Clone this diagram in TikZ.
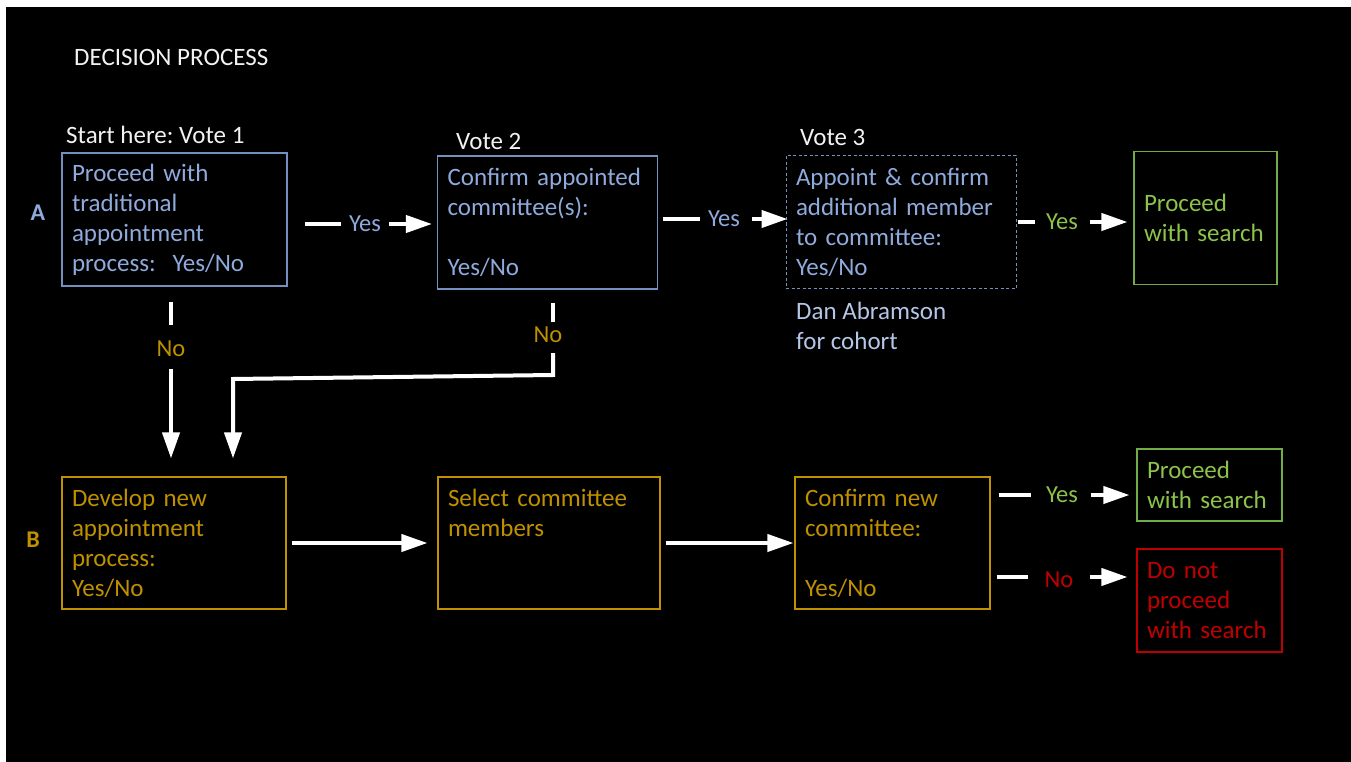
\documentclass[tikz,border=0pt]{standalone}
\usepackage{fontspec}
\setmainfont{Carlito}
\usetikzlibrary{arrows.meta}
\frenchspacing
\definecolor{blueB}{HTML}{7490C0}
\definecolor{blueT}{HTML}{8FAADC}
\definecolor{lightT}{HTML}{B4C7E7}
\definecolor{orangeC}{HTML}{BF9000}
\definecolor{greenB}{HTML}{70AD47}
\definecolor{greenT}{HTML}{8DC34B}
\definecolor{redC}{HTML}{C00000}
\definecolor{whiteT}{HTML}{F2F2F2}
\tikzset{
  boxnode/.style={draw, line width=1.1pt, rectangle, align=left, inner xsep=10pt, inner ysep=0pt,
    font=\fontsize{25}{30}\selectfont},
  bluebox/.style={boxnode, draw=blueB, text=blueT},
  orangebox/.style={boxnode, draw=orangeC, text=orangeC},
  greenbox/.style={boxnode, draw=greenB, text=greenT},
  redbox/.style={boxnode, draw=redC, text=redC},
  lab/.style={inner sep=0pt, font=\fontsize{24.5}{30}\selectfont},
  plain/.style={inner sep=0pt, anchor=west, text=whiteT, font=\fontsize{25}{30}\selectfont},
  wline/.style={draw=white, line width=4pt},
  warr/.style={draw=white, line width=4pt, -{Triangle[length=26pt,width=17pt]}},
}
\begin{document}
\begin{tikzpicture}[x=1pt,y=-1pt]
\useasboundingbox (0,0) rectangle (1351,762);
\fill[white] (0,0) rectangle (1351,762);
\fill[black] (6,7) rectangle (1351,762);

% titles
\node[plain] (title) at (74,57) {DECISION PROCESS};
\node[plain] (v1) at (66,135) {Start here: Vote 1};
\node[plain] (v2) at (456,141) {Vote 2};
\node[plain] (v3) at (800,137) {Vote 3};
\node[lab, text=blueT, font=\fontsize{24}{30}\selectfont\bfseries] (lA) at (38,213) {A};
\node[lab, text=orangeC, font=\fontsize{24}{30}\selectfont\bfseries] (lB) at (33,540) {B};

% row A
\node[bluebox, text width=205pt, minimum height=133pt] (A1) at (174.5,219.5)
  {Proceed with\\traditional\\appointment\\process:\ \ Yes/No};
\node[bluebox, text width=200pt, minimum height=133pt] (A2) at (547.5,222.5)
  {Confirm appointed\\committee(s):\\\mbox{}\\Yes/No};
\node[bluebox, dash pattern=on 3pt off 2.5pt, line width=1pt, text width=210pt, minimum height=133pt] (A3) at (901,222)
  {Appoint \& confirm\\additional member\\to committee:\\Yes/No};
\node[greenbox, text width=123pt, minimum height=133pt] (P1) at (1205.5,218)
  {Proceed\\with search};
\node[lab, text=lightT, align=left, anchor=west, font=\fontsize{25}{30}\selectfont] (dan) at (796,326) {Dan Abramson\\for cohort};

% row B
\node[orangebox, text width=204pt, minimum height=132pt] (B1) at (174,543)
  {Develop new\\appointment\\process:\\Yes/No};
\node[orangebox, text width=202pt, minimum height=132pt] (B2) at (549,543)
  {Select committee\\members\\\mbox{}\\\mbox{}};
\node[orangebox, text width=175pt, minimum height=132pt] (B3) at (892.5,543)
  {Confirm new\\committee:\\\mbox{}\\Yes/No};
\node[greenbox, text width=125pt, minimum height=72pt] (P2) at (1209.5,485)
  {Proceed\\with search};
\node[redbox, text width=125pt, minimum height=103pt] (R) at (1209.5,600.5)
  {Do not\\proceed\\with search};

% connector labels
\node[lab, text=blueT] (y1) at (365,224) {Yes};
\node[lab, text=blueT] (y2) at (724,219) {Yes};
\node[lab, text=greenT] (y3) at (1062,222) {Yes};
\node[lab, text=orangeC] (n1) at (171,349) {No};
\node[lab, text=orangeC] (n2) at (548,335) {No};
\node[lab, text=greenT] (y4) at (1062,495) {Yes};
\node[lab, text=redC] (n3) at (1059,580) {No};

% A1 -> A2
\draw[wline] ([xshift=17pt]A1.east |- y1) -- ([xshift=-8pt]y1.west);
\draw[warr] ([xshift=8pt]y1.east) -- ([xshift=-5pt]A2.west |- y1);
% A2 -> A3
\draw[wline] ([xshift=5pt]A2.east |- y2) -- ([xshift=-8pt]y2.west);
\draw[warr] ([xshift=12pt]y2.east) -- ([xshift=2pt]A3.west |- y2);
% A3 -> P1
\draw[wline] ([xshift=1pt]A3.east |- y3) -- ([xshift=-11pt]y3.west);
\draw[warr] ([xshift=12pt]y3.east) -- ([xshift=-6pt]P1.west |- y3);
% A1 down (No)
\coordinate (n1top) at (171,302);
\draw[wline] (n1top) -- ([yshift=16pt]n1.north);
\draw[warr] ([yshift=-12pt]n1.south) -- ([yshift=18pt]n1 |- B1.north);
% A2 down (No)
\coordinate (n2top) at (553,303);
\coordinate (n2bot) at (553,353);
\coordinate (n2corner) at (553,375);
\coordinate (n2left) at (233,379);
\draw[wline] (n2top) -- (553,322);
\draw[warr] (n2bot) -- (n2corner) -- (n2left) -- ([yshift=18pt]n2left |- B1.north);
% B1 -> B2 -> B3
\draw[warr] ([xshift=5pt]B1.east) -- ([xshift=-10pt]B2.west);
\draw[warr] ([xshift=5pt]B2.east) -- ([xshift=-1pt]B3.west);
% B3 -> P2 (Yes)
\draw[wline] ([xshift=8pt]B3.east |- y4) -- ([xshift=-15pt]y4.west);
\draw[warr] ([xshift=13pt]y4.east) -- ([xshift=-7pt]P2.west |- y4);
% B3 -> R (No)
\draw[wline] ([xshift=6pt]B3.east |- 0,577) -- ([xshift=-16pt]n3.west |- 0,577);
\draw[warr] ([xshift=16pt]n3.east |- 0,577) -- ([xshift=-9pt]R.west |- 0,577);
\end{tikzpicture}
\end{document}
